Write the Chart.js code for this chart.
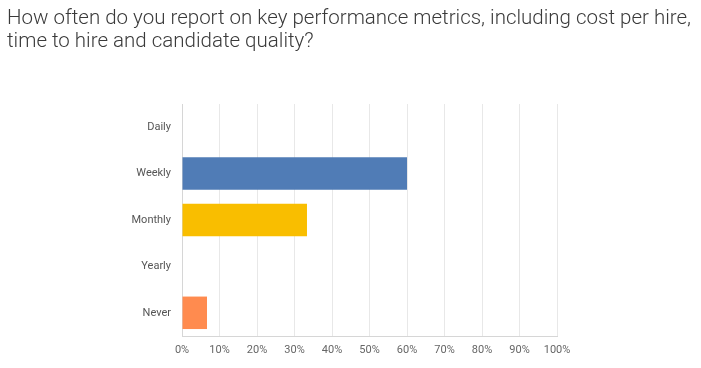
<!DOCTYPE html>
<html>
<head>
<meta charset="utf-8">
<script src="https://cdn.jsdelivr.net/npm/chart.js@4/dist/chart.umd.min.js"></script>
<style>
html,body{margin:0;padding:0;background:#fff;}
#wrap{width:701px;height:368px;position:relative;}
</style>
</head>
<body>
<div id="wrap"><canvas id="c" width="701" height="368"></canvas></div>
<script>
const titleLines = ["How often do you report on key performance metrics, including cost per hire,", "time to hire and candidate quality?"];
const categories = ["Daily", "Weekly", "Monthly", "Yearly", "Never"];
const percentValues = [0, 60.00, 33.33, 0, 6.67];
const barColors = ["#507cb6", "#507cb6", "#f9be00", "#507cb6", "#ff8b4f"];
const xTickValues = [0, 10, 20, 30, 40, 50, 60, 70, 80, 90, 100];

const fontFamily = "Roboto, 'Noto Sans', sans-serif";

const titlePlugin = {
  id: 'wideTitle',
  afterDraw(chart, args, opts) {
    const ctx = chart.ctx;
    ctx.save();
    ctx.font = opts.font;
    ctx.fillStyle = opts.color;
    ctx.textBaseline = 'alphabetic';
    ctx.textAlign = 'left';
    opts.lines.forEach((line, i) => {
      ctx.fillText(line, opts.x, opts.baseline + i * opts.lineHeight, opts.maxWidth);
    });
    ctx.restore();
  }
};

new Chart(document.getElementById('c'), {
  type: 'bar',
  data: {
    labels: categories,
    datasets: [{
      data: percentValues,
      backgroundColor: barColors,
      borderWidth: 0,
      barPercentage: 0.7,
      categoryPercentage: 1.0
    }]
  },
  plugins: [titlePlugin],
  options: {
    indexAxis: 'y',
    responsive: false,
    animation: false,
    devicePixelRatio: 1,
    layout: { padding: { left: 7, right: 144, top: 104, bottom: 0 } },
    plugins: {
      legend: { display: false },
      tooltip: { enabled: false },
      title: { display: false },
      wideTitle: {
        lines: titleLines,
        font: "300 20.5px Roboto, 'Noto Sans', sans-serif",
        color: '#3a3a3a',
        x: 7,
        baseline: 24,
        lineHeight: 23,
        maxWidth: 686
      }
    },
    scales: {
      x: {
        min: 0,
        max: 100,
        afterBuildTicks: (axis) => { axis.ticks = xTickValues.map(v => ({ value: v })); },
        afterFit: (axis) => { axis.height = 32; },
        grid: { color: '#e8e8e8', drawTicks: false },
        border: { color: '#d6d6d6' },
        ticks: {
          padding: 8,
          color: '#666',
          font: { family: fontFamily, size: 11 },
          callback: (v) => v + '%'
        }
      },
      y: {
        afterFit: (axis) => { axis.width = 175; },
        grid: { display: false, drawTicks: false },
        border: { color: '#d6d6d6' },
        ticks: {
          padding: 11,
          color: '#555',
          font: { family: fontFamily, size: 11 }
        }
      }
    }
  }
});
</script>
</body>
</html>
